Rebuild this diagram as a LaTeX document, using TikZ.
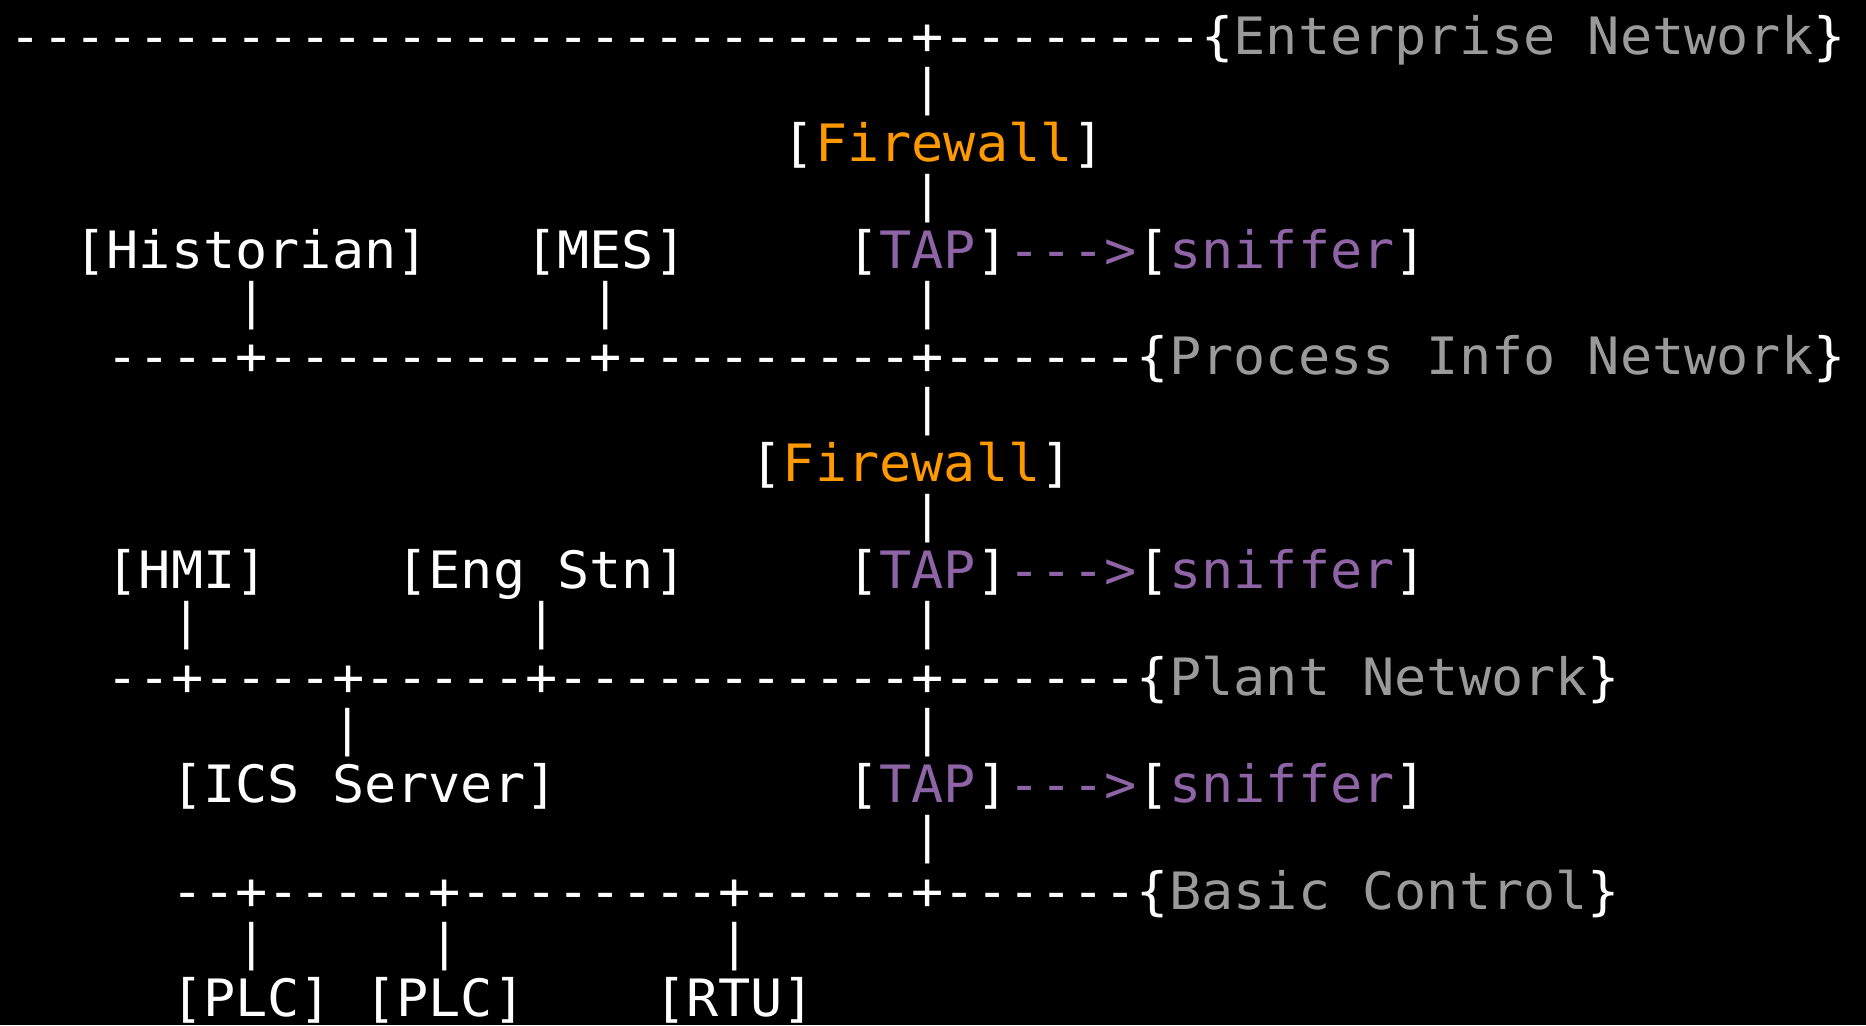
\documentclass[tikz,border=0pt]{standalone}
\usepackage{fontspec}
\newfontfamily\mono[Ligatures=TeXOff,FakeStretch=1.0386]{DejaVu Sans Mono}
\definecolor{fwcol}{HTML}{FF9900}
\definecolor{tapcol}{HTML}{8E64A6}
\definecolor{netcol}{HTML}{9A9A9A}
\newcommand\fwc[1]{\textcolor{fwcol}{#1}}
\newcommand\tapc[1]{\textcolor{tapcol}{#1}}
\newcommand\netc[1]{\textcolor{netcol}{#1}}
\begin{document}
\begin{tikzpicture}[x=16.1pt,y=-26.725pt,
  cell/.style={anchor=base west,inner sep=0pt,outer sep=0pt,text=white,
    font={\mono\fontsize{25.75pt}{25.75pt}\selectfont}},
  vbar/.style={cell,font={\mono\fontsize{24.35pt}{24.35pt}\selectfont},
    yshift=1.72pt,xshift=0.44pt}]
\fill[black] (0pt,0pt) rectangle (933pt,-512.5pt);
\useasboundingbox (0pt,0pt) rectangle (933pt,-512.5pt);
\begin{scope}[shift={(5pt,-27.1pt)}]
% Enterprise network
\node[cell] (ent) at (0,0) {----------------------------+--------\{\netc{Enterprise Network}\}};
\node[vbar] (b1) at (28,1) {|};
\node[cell] (fw1) at (24,2) {[\fwc{Firewall}]};
\node[vbar] (b2) at (28,3) {|};
% row 4
\node[cell] (hist) at (2,4) {[Historian]};
\node[cell] (mes) at (16,4) {[MES]};
\node[cell] (tap1) at (26,4) {[\tapc{TAP}]};
\node[cell] (arr1) at (31,4) {\tapc{--->}};
\node[cell] (sn1) at (35,4) {[\tapc{sniffer}]};
\node[vbar] (b3) at (7,5) {|};
\node[vbar] (b4) at (18,5) {|};
\node[vbar] (b5) at (28,5) {|};
% Process info network
\node[cell] (pin) at (3,6) {----+----------+---------+------\{\netc{Process Info Network}\}};
\node[vbar] (b6) at (28,7) {|};
\node[cell] (fw2) at (23,8) {[\fwc{Firewall}]};
\node[vbar] (b7) at (28,9) {|};
% row 10
\node[cell] (hmi) at (3,10) {[HMI]};
\node[cell] (eng) at (12,10) {[Eng Stn]};
\node[cell] (tap2) at (26,10) {[\tapc{TAP}]};
\node[cell] (arr2) at (31,10) {\tapc{--->}};
\node[cell] (sn2) at (35,10) {[\tapc{sniffer}]};
\node[vbar] (b8) at (5,11) {|};
\node[vbar] (b9) at (16,11) {|};
\node[vbar] (b10) at (28,11) {|};
% Plant network
\node[cell] (plant) at (3,12) {--+----+-----+-----------+------\{\netc{Plant Network}\}};
\node[vbar] (b11) at (10,13) {|};
\node[vbar] (b12) at (28,13) {|};
\node[cell] (ics) at (5,14) {[ICS Server]};
\node[cell] (tap3) at (26,14) {[\tapc{TAP}]};
\node[cell] (arr3) at (31,14) {\tapc{--->}};
\node[cell] (sn3) at (35,14) {[\tapc{sniffer}]};
\node[vbar] (b13) at (28,15) {|};
% Basic control
\node[cell] (basic) at (5,16) {--+-----+--------+-----+------\{\netc{Basic Control}\}};
\node[vbar] (b14) at (7,17) {|};
\node[vbar] (b15) at (13,17) {|};
\node[vbar] (b16) at (22,17) {|};
\node[cell] (plc1) at (5,18) {[PLC]};
\node[cell] (plc2) at (11,18) {[PLC]};
\node[cell] (rtu) at (20,18) {[RTU]};
\end{scope}
\end{tikzpicture}
\end{document}
